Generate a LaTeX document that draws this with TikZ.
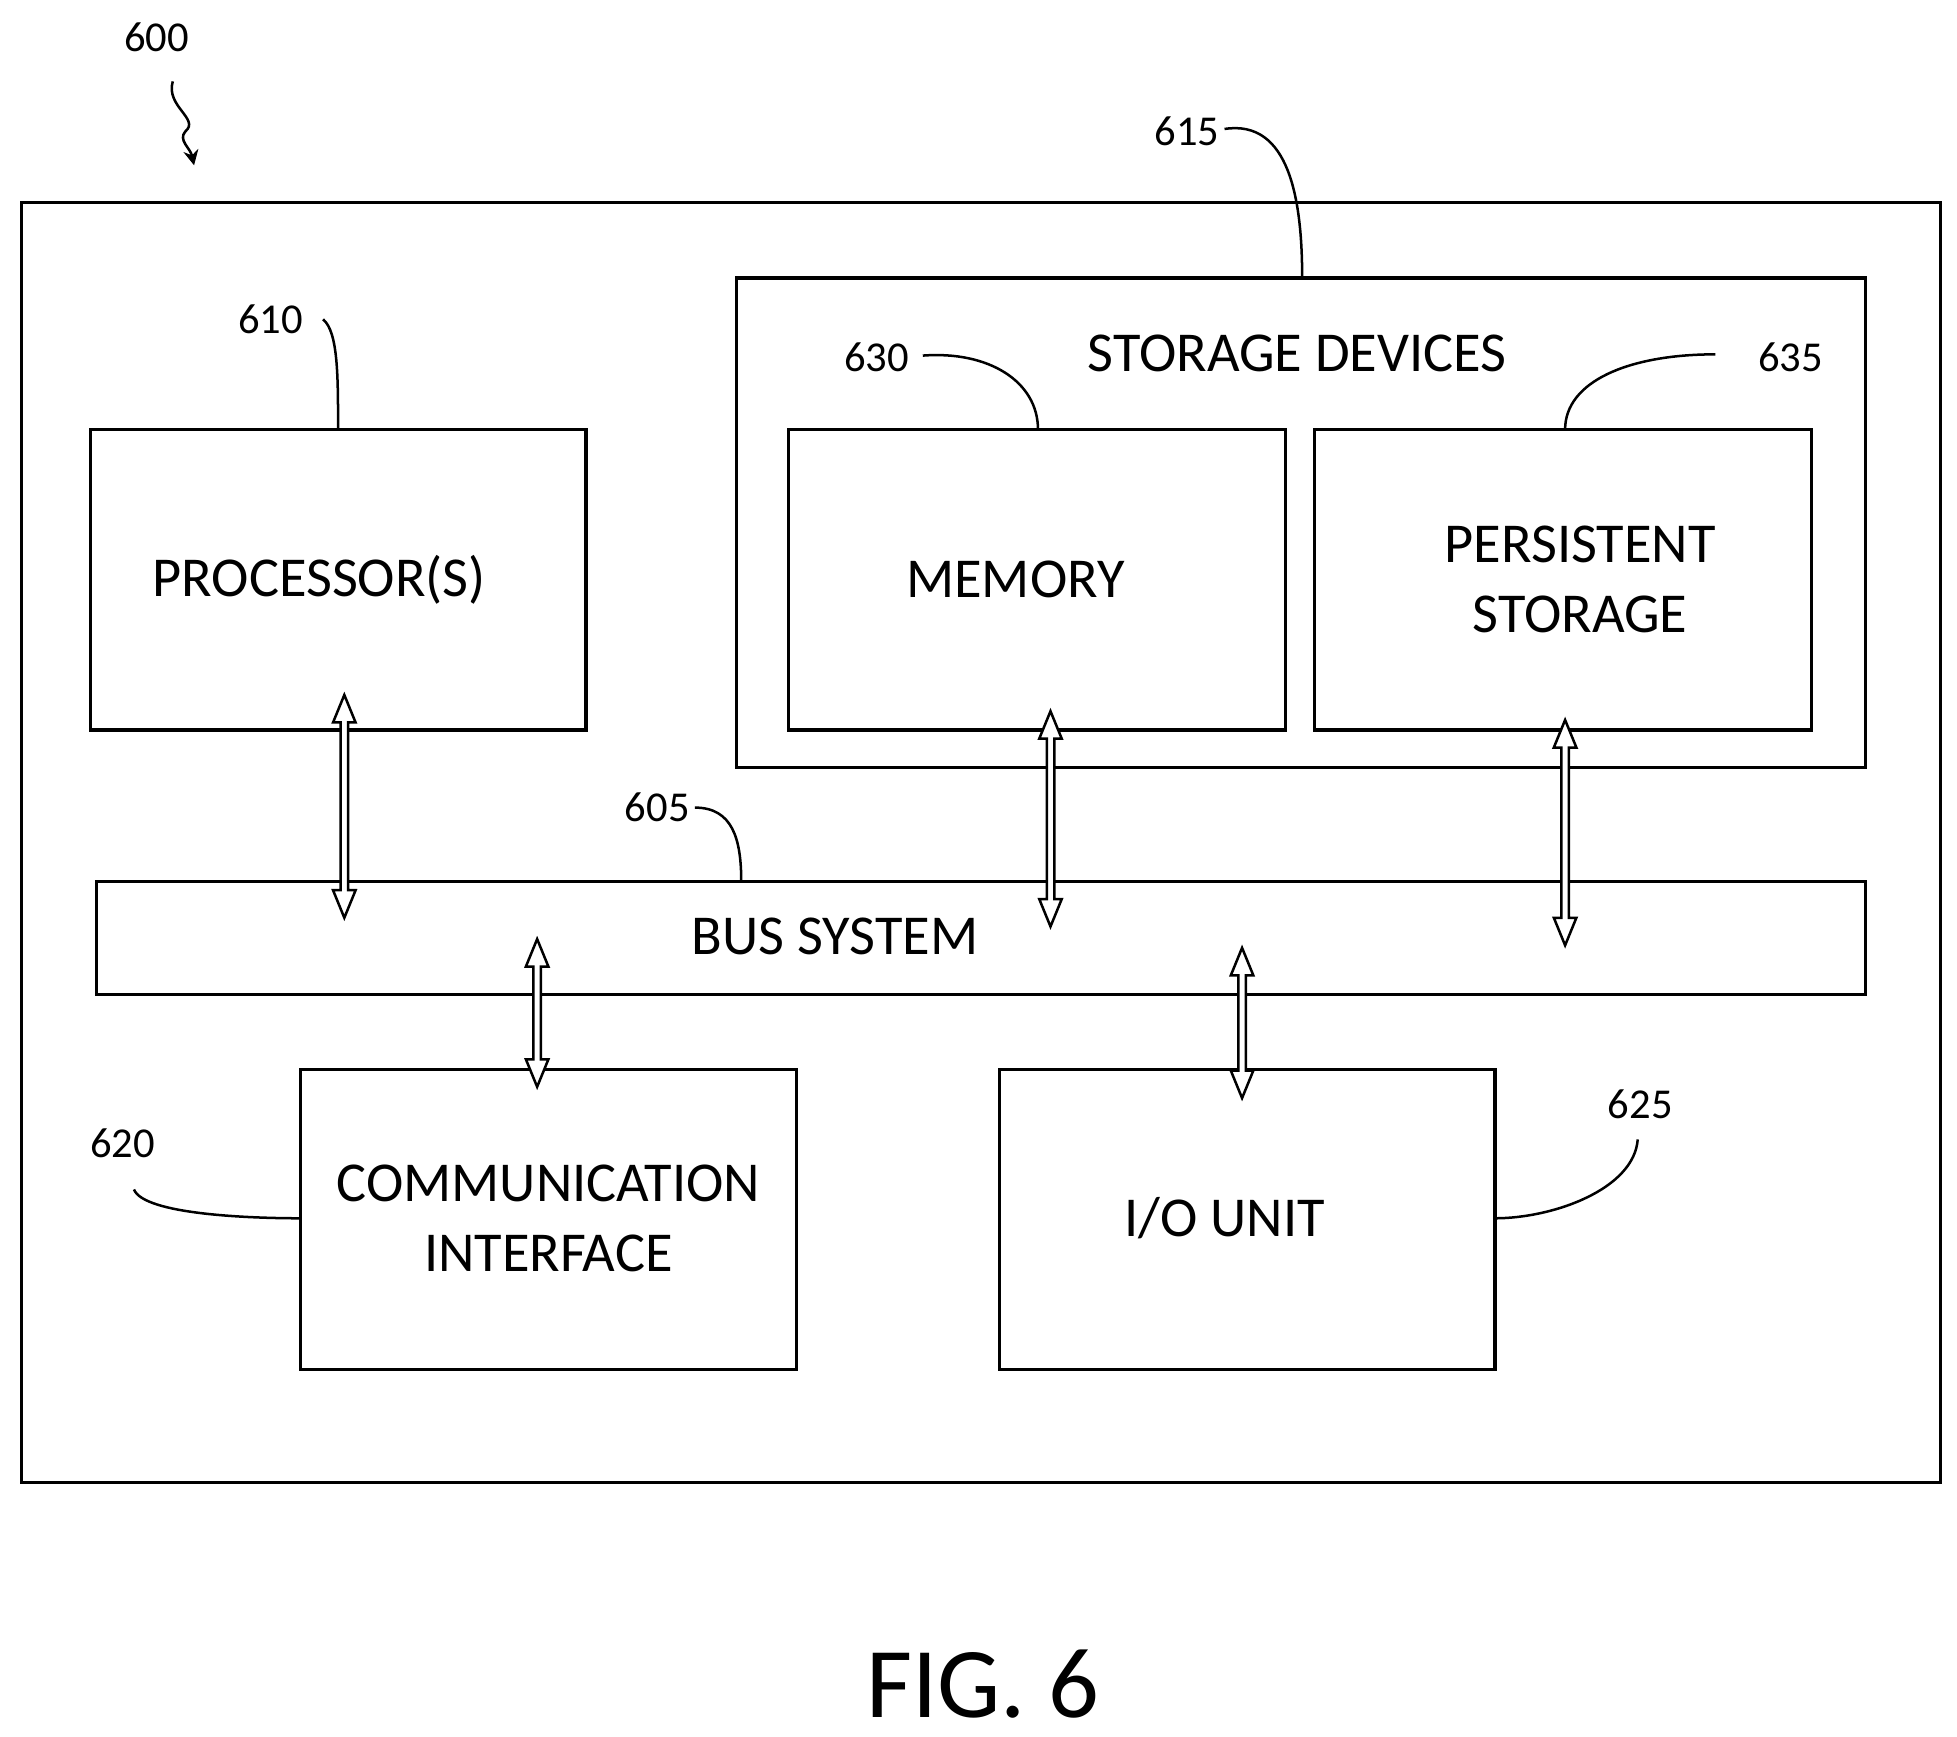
\documentclass[tikz,border=0pt]{standalone}
\usepackage{fontspec}
\usetikzlibrary{arrows.meta}
\setmainfont{Carlito}
\begin{document}
\begin{tikzpicture}[x=1pt,y=-1pt,line width=2.5pt,
 box/.style={draw},
 big/.style={font=\fontsize{45}{56}\selectfont,align=center},
 lab/.style={font=\fontsize{34}{36}\selectfont},
 lead/.style={line width=2pt}]
\useasboundingbox (0,0) rectangle (1563,1387);
\newcommand\harrow[3]{%
 \draw[line width=2pt,fill=white] (#1-3,#2+22) -- (#1-9,#2+22) -- (#1,#2) -- (#1+9,#2+22) -- (#1+3,#2+22)
 -- (#1+3,#3-22) -- (#1+9,#3-22) -- (#1,#3) -- (#1-9,#3-22) -- (#1-3,#3-22) -- cycle;}
\draw[box] (17,162) rectangle (1550,1184);
\draw[box] (72,343) rectangle (468,583); \node[big] (proc) at (255,463) {PROCESSOR(S)};
\draw[box] (588,222) rectangle (1490,613); \node[big] (stor) at (1036,282) {STORAGE DEVICES};
\draw[box] (630,343) rectangle (1027,583); \node[big] (mem) at (811,463) {MEMORY};
\draw[box] (1050,343) rectangle (1447,583); \node[big] (pers) at (1262,463) {PERSISTENT\\STORAGE};
\draw[box] (77,704) rectangle (1490,794); \node[big] (bus) at (667,748) {BUS SYSTEM};
\draw[box] (240,854) rectangle (636,1094); \node[big] (comm) at (438,973) {COMMUNICATION\\INTERFACE};
\draw[box] (798,854) rectangle (1194,1094); \node[big] (io) at (978,973) {I/O UNIT};
\node[font=\fontsize{80}{90}\selectfont] (fig) at (785,1345) {FIG. 6};
\harrow{275}{555}{733}
\harrow{839}{568}{740}
\harrow{1250}{575}{755}
\harrow{429}{750}{868}
\harrow{992}{757}{877}
\node[lab] (l600) at (125,30) {600};
\draw[lead,-{Stealth[length=12pt,width=12pt]}] (138,65) .. controls (132,85) and (160,95) .. (148,105) .. controls (142,112) and (152,118) .. (155,132);
\node[lab] (l615) at (948,105) {615};
\draw[lead] (978,103) .. controls (1030,95) and (1040,160) .. (1040,222);
\node[lab] (l610) at (216,255) {610};
\draw[lead] (258,255) .. controls (270,265) and (270,300) .. (270,343);
\node[lab] (l630) at (700,285) {630};
\draw[lead] (737,284) .. controls (790,280) and (829,305) .. (829,343);
\node[lab] (l635) at (1430,285) {635};
\draw[lead] (1370,283) .. controls (1300,283) and (1250,305) .. (1250,343);
\node[lab] (l605) at (525,645) {605};
\draw[lead] (555,645) .. controls (585,645) and (592,670) .. (592,704);
\node[lab] (l620) at (98,913) {620};
\draw[lead] (107,950) .. controls (115,970) and (200,973) .. (240,973);
\node[lab] (l625) at (1310,882) {625};
\draw[lead] (1308,910) .. controls (1305,950) and (1240,973) .. (1194,973);
\end{tikzpicture}
\end{document}
